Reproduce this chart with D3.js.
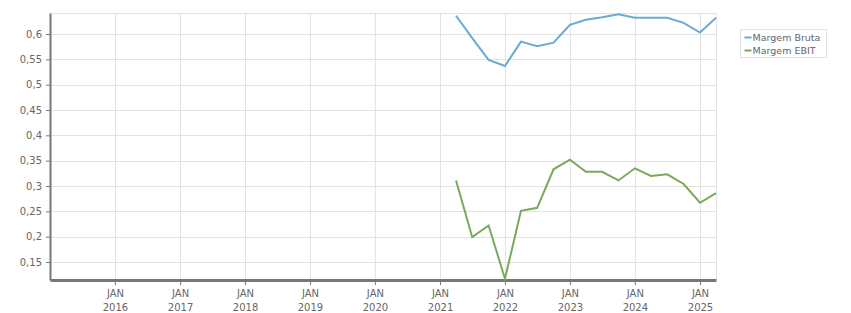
<!DOCTYPE html>
<html>
<head>
<meta charset="utf-8">
<script src="https://cdn.jsdelivr.net/npm/d3@7"></script>
<style>
  body { margin: 0; background: #fff; }
  svg text { font-family: "DejaVu Sans", Verdana, sans-serif; font-size: 10px; fill: #666; }
  svg .legend text { font-size: 9.5px; }
</style>
</head>
<body>
<svg id="chart" width="851" height="313"></svg>
<script>
const quarters = ["2021-04-01", "2021-07-01", "2021-10-01", "2022-01-01", "2022-04-01", "2022-07-01",
    "2022-10-01", "2023-01-01", "2023-04-01", "2023-07-01", "2023-10-01", "2024-01-01",
    "2024-04-01", "2024-07-01", "2024-10-01", "2025-01-01", "2025-04-01"];
const margemBruta = [0.636, 0.592, 0.549, 0.537, 0.585, 0.576, 0.583, 0.618, 0.628, 0.633,
    0.639, 0.632, 0.632, 0.632, 0.622, 0.603, 0.632];
const margemEbit = [0.311, 0.199, 0.222, 0.117, 0.251, 0.257, 0.333, 0.352, 0.328, 0.328,
    0.311, 0.335, 0.320, 0.323, 0.304, 0.267, 0.286];
const yTicks = [0.15, 0.2, 0.25, 0.3, 0.35, 0.4, 0.45, 0.5, 0.55, 0.6];
const yearTicks = [2016, 2017, 2018, 2019, 2020, 2021, 2022, 2023, 2024, 2025];
const seriesNames = ["Margem Bruta", "Margem EBIT"];
const colors = ["#6aaad3", "#79a95b"];

const margin = {left: 50, right: 135, top: 13, bottom: 33};
const svg = d3.select("#chart");
const width = +svg.attr("width") - margin.left - margin.right;
const height = +svg.attr("height") - margin.top - margin.bottom;
const parse = d3.timeParse("%Y-%m-%d");

const scaleX = d3.scaleTime()
    .domain([new Date(2015, 0, 1), new Date(2025, 3, 1)])
    .range([0, width]);
const scaleY = d3.scaleLinear()
    .domain([0.1145, 0.6415])
    .range([height, 0]);

const g = svg.append("g")
    .attr("transform", `translate(${margin.left},${margin.top})`);

// grid
const tickDates = yearTicks.map(y => new Date(y, 0, 1));
g.append("g").selectAll("line")
    .data(tickDates.concat([scaleX.domain()[1]])).enter()
    .append("line")
        .attr("x1", d => scaleX(d) + 0.5).attr("x2", d => scaleX(d) + 0.5)
        .attr("y1", 0).attr("y2", height)
        .attr("stroke", "#e2e2e2");
g.append("g").selectAll("line")
    .data(yTicks.concat([scaleY.domain()[1]])).enter()
    .append("line")
        .attr("x1", 0).attr("x2", width)
        .attr("y1", d => Math.round(scaleY(d)) + 0.5).attr("y2", d => Math.round(scaleY(d)) + 0.5)
        .attr("stroke", "#e2e2e2");

// axes
const axisY = d3.axisLeft(scaleY)
    .tickValues(yTicks)
    .tickSize(4)
    .tickSizeOuter(0)
    .tickFormat(d => d3.format("~g")(d).replace(".", ","));
g.append("g")
    .call(axisY)
    .call(a => a.select(".domain").attr("stroke", "#777").attr("stroke-width", 2))
    .call(a => a.selectAll(".tick line").attr("stroke", "#777"))
    .call(a => a.selectAll("text").attr("dx", "-1"));

const axisX = d3.axisBottom(scaleX)
    .tickValues(tickDates)
    .tickSize(5)
    .tickSizeOuter(0)
    .tickFormat("");
const xAxis = g.append("g")
    .attr("transform", `translate(0,${height})`)
    .call(axisX)
    .call(a => a.select(".domain").attr("stroke", "#777").attr("stroke-width", 3))
    .call(a => a.selectAll(".tick line").attr("stroke", "#777"));
xAxis.selectAll(".tick").append("text")
    .attr("text-anchor", "middle")
    .selectAll("tspan")
    .data(d => ["JAN", d.getFullYear()]).enter()
    .append("tspan")
        .attr("x", 0)
        .attr("y", (d, i) => 17 + i * 14)
        .text(d => d);

// lines
const series = [margemBruta, margemEbit].map((vals, i) => ({
    name: seriesNames[i],
    color: colors[i],
    points: vals.map((v, j) => ({date: parse(quarters[j]), value: v}))
}));
const line = d3.line()
    .x(d => scaleX(d.date))
    .y(d => scaleY(d.value));
g.append("g").selectAll("path")
    .data(series).enter()
    .append("path")
        .attr("d", d => line(d.points))
        .attr("fill", "none")
        .attr("stroke", d => d.color)
        .attr("stroke-width", 2);

// legend
const legend = svg.append("g").attr("class", "legend").attr("transform", "translate(740.5,29.5)");
legend.append("rect")
    .attr("width", 86).attr("height", 28)
    .attr("fill", "#fff").attr("stroke", "#e2e2e2");
const items = legend.selectAll(".item")
    .data(series).enter()
    .append("g")
        .attr("transform", (d, i) => `translate(4,${8 + i * 13})`);
items.append("line")
    .attr("x1", 0).attr("x2", 7)
    .attr("stroke", d => d.color).attr("stroke-width", 2);
items.append("text")
    .attr("x", 8).attr("dy", "0.35em")
    .text(d => d.name);
</script>
</body>
</html>
